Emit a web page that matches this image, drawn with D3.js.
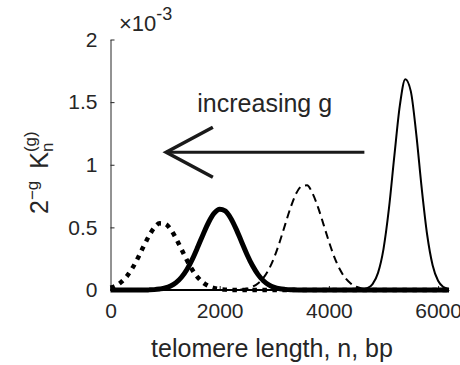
<!DOCTYPE html>
<html>
<head>
<meta charset="utf-8">
<script src="https://cdn.jsdelivr.net/npm/d3@7"></script>
<style>
  body { margin: 0; background: #fff; }
  svg text { font-family: "Liberation Sans", Arial, Helvetica, sans-serif; fill: #262626; }
</style>
</head>
<body>
<svg></svg>
<script>
let width = 460,
    height = 365;

// telomere length n (bp), sampled every 100
let lengths = [
    0, 100, 200, 300, 400, 500, 600, 700, 800, 900,
    1000, 1100, 1200, 1300, 1400, 1500, 1600, 1700, 1800, 1900,
    2000, 2100, 2200, 2300, 2400, 2500, 2600, 2700, 2800, 2900,
    3000, 3100, 3200, 3300, 3400, 3500, 3600, 3700, 3800, 3900,
    4000, 4100, 4200, 4300, 4400, 4500, 4600, 4700, 4800, 4900,
    5000, 5100, 5200, 5300, 5400, 5500, 5600, 5700, 5800, 5900,
    6000, 6100, 6200
];

// 2^-g K_n^(g), in units of 1e-3
let dottedSeries = [
    0.018, 0.035, 0.065, 0.110, 0.174, 0.254, 0.343, 0.428, 0.496, 0.532,
    0.528, 0.485, 0.412, 0.325, 0.237, 0.160, 0.100, 0.058, 0.031, 0.015,
    0.007, 0.003, 0.001, 0, 0, 0, 0, 0, 0, 0,
    0, 0, 0, 0, 0, 0, 0, 0, 0, 0,
    0, 0, 0, 0, 0, 0, 0, 0, 0, 0,
    0, 0, 0, 0, 0, 0, 0, 0, 0, 0,
    0, 0, 0
];
let thickSeries = [
    0, 0, 0, 0, 0, 0, 0, 0.001, 0.003, 0.008,
    0.016, 0.032, 0.059, 0.102, 0.164, 0.247, 0.345, 0.448, 0.543, 0.613,
    0.644, 0.631, 0.575, 0.488, 0.386, 0.284, 0.195, 0.125, 0.074, 0.041,
    0.021, 0.010, 0.005, 0.002, 0.001, 0, 0, 0, 0, 0,
    0, 0, 0, 0, 0, 0, 0, 0, 0, 0,
    0, 0, 0, 0, 0, 0, 0, 0, 0, 0,
    0, 0, 0
];
let dashedSeries = [
    0, 0, 0, 0, 0, 0, 0, 0, 0, 0,
    0, 0, 0, 0, 0, 0, 0, 0, 0, 0,
    0, 0, 0, 0.002, 0.005, 0.012, 0.026, 0.052, 0.096, 0.165,
    0.262, 0.385, 0.524, 0.660, 0.770, 0.828, 0.836, 0.772, 0.662, 0.526,
    0.387, 0.263, 0.165, 0.096, 0.052, 0.026, 0.012, 0.005, 0.002, 0,
    0, 0, 0, 0, 0, 0, 0, 0, 0, 0,
    0, 0, 0
];
let thinSeries = [
    0, 0, 0, 0, 0, 0, 0, 0, 0, 0,
    0, 0, 0, 0, 0, 0, 0, 0, 0, 0,
    0, 0, 0, 0, 0, 0, 0, 0, 0, 0,
    0, 0, 0, 0, 0, 0, 0, 0, 0, 0,
    0, 0, 0, 0, 0, 0.001, 0.003, 0.014, 0.047, 0.137,
    0.327, 0.651, 1.075, 1.474, 1.683, 1.588, 1.247, 0.813, 0.441, 0.198,
    0.074, 0.023, 0.006
];

let xTicks = [0, 2000, 4000, 6000];
let yTicks = [0, 0.5, 1, 1.5, 2];

// arrow: shaft end, tip, head ends (n, value)
let arrowShaft = [[4650, 1.10], [1020, 1.10]];
let arrowHead = [[1875, 1.30], [1020, 1.10], [1875, 0.90]];
let annotation = { text: "increasing g", n: 1590, v: 1.42 };

let svg = d3.select("svg")
    .attr("width", width)
    .attr("height", height);

let x = d3.scaleLinear().domain([0, 6200]).range([110.5, 449]);
let y = d3.scaleLinear().domain([0, 2]).range([290, 39.5]);

// axes, ticks pointing inward
let xAxis = svg.append("g")
    .attr("transform", `translate(0, ${y(0)})`)
    .call(d3.axisBottom(x).tickValues(xTicks).tickFormat(d3.format("d"))
        .tickSize(-4).tickSizeOuter(0).tickPadding(13));
let yAxis = svg.append("g")
    .attr("transform", `translate(${x(0)}, 0)`)
    .call(d3.axisLeft(y).tickValues(yTicks).tickFormat(d3.format("~g"))
        .tickSize(-4).tickSizeOuter(0).tickPadding(13));

[xAxis, yAxis].forEach(g => {
    g.selectAll("path, line").attr("stroke", "#262626").attr("stroke-width", 1);
    g.selectAll("text").attr("font-size", 21).attr("fill", "#262626");
    g.attr("font-family", null);
});

let line = d3.line()
    .x((d, i) => x(lengths[i]))
    .y(d => y(d))
    .curve(d3.curveMonotoneX);

let styles = [
    { data: thinSeries, width: 2, dash: null },
    { data: dashedSeries, width: 2, dash: "8,5" },
    { data: thickSeries, width: 5, dash: null },
    { data: dottedSeries, width: 4.5, dash: "4.5,5.5" }
];

svg.selectAll("path.curve")
    .data(styles)
    .enter()
    .append("path")
    .attr("class", "curve")
    .attr("d", s => line(s.data))
    .attr("fill", "none")
    .attr("stroke", "#000")
    .attr("stroke-width", s => s.width)
    .attr("stroke-dasharray", s => s.dash)
    .attr("stroke-linejoin", "round");

// arrow
let arrowLine = d3.line().x(d => x(d[0])).y(d => y(d[1]));
svg.append("path")
    .attr("d", arrowLine(arrowShaft))
    .attr("stroke", "#1a1a1a").attr("stroke-width", 3).attr("fill", "none");
svg.append("path")
    .attr("d", arrowLine(arrowHead))
    .attr("stroke", "#1a1a1a").attr("stroke-width", 3.5).attr("fill", "none")
    .attr("stroke-linejoin", "miter");

svg.append("text")
    .attr("x", x(annotation.n))
    .attr("y", y(annotation.v))
    .attr("font-size", 25)
    .attr("fill", "#262626")
    .text(annotation.text);

// exponent marker
let expo = svg.append("text")
    .attr("x", 119)
    .attr("y", 31)
    .attr("font-size", 22);
expo.append("tspan").text("\u00d710");
expo.append("tspan").attr("font-size", 18).attr("dy", -11).text("-3");

// x label
svg.append("text")
    .attr("x", 272)
    .attr("y", 357)
    .attr("text-anchor", "middle")
    .attr("font-size", 25)
    .text("telomere length, n, bp");

// y label 2^-g K_n^(g)
let yl = svg.append("text")
    .attr("transform", "translate(48, 214) rotate(-90)")
    .attr("font-size", 25);
yl.append("tspan").text("2");
yl.append("tspan").attr("font-size", 17).attr("dy", -10).text("\u2212g");
yl.append("tspan").attr("dy", 10).attr("dx", 12).text("K");
yl.append("tspan").attr("font-size", 17).attr("dy", 5).text("n");
yl.append("tspan").attr("font-size", 17).attr("dx", -9.5).attr("dy", -17).text("(g)");
</script>
</body>
</html>
